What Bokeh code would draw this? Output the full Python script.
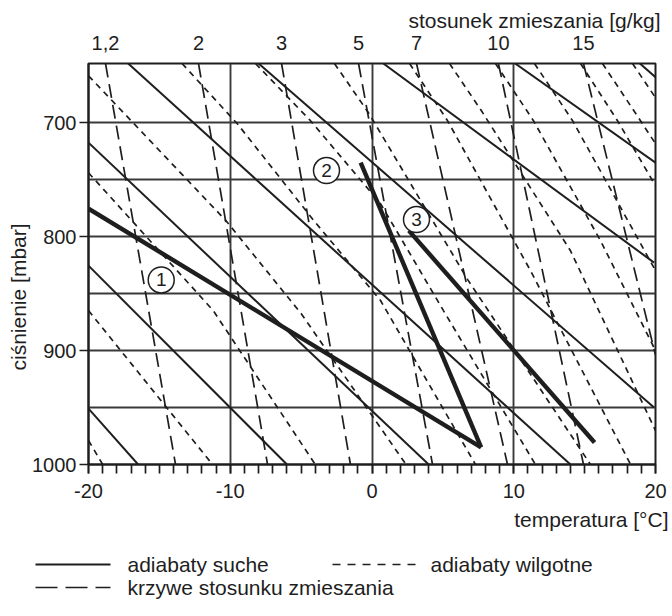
from bokeh.plotting import figure
from bokeh.layouts import column
from bokeh.models import Range1d, LinearAxis, FixedTicker, Title
from bokeh.core.properties import value
from bokeh.embed import file_html
from bokeh.resources import INLINE

FONT = "Liberation Sans"
INK = "#1e1e1e"
GRID = "#3a3a3a"

# ---------------- data ----------------
p_top, p_bot = 648, 1000
t_min, t_max = -20, 20
press_ticks = [700, 800, 900, 1000]
press_grid = [700, 750, 800, 850, 900, 950]
temp_ticks = [-20, -10, 0, 10, 20]
temp_tick_labels = ["-20", "-10", "0", "10", "20"]
temp_minor = list(range(-20, 21))
temp_grid = [-10, 0, 10]

# dry adiabats (solid) - endpoints (T, p)
dry_T = [[-20.0, -16.5], [-20.0, -6.0], [-20.0, 4.0], [-17.2, 14.0],
         [-8.0, 19.9], [0.8, 19.9], [10.1, 20.0], [18.9, 20.0]]
dry_p = [[950.9, 1000], [825.4, 1000], [717.5, 1000], [648, 1000],
         [648, 950], [648, 822.8], [648, 735], [648, 660]]

# moist adiabats (short dash)
moist_T = [[-20.0, -19.0],
           [-20.0, -11.25],
           [-20.0, -11.2, -4.0],
           [-20.0, -10.3, -5.0, 2.4],
           [-13.4, -9.5, -4.1, 0.6, 7.3],
           [-8.22, -4.34, 0.6, 5.04, 11.53],
           [-2.65, -0.25, 6.75, 15.41],
           [2.65, 5.33, 11.18, 18.24],
           [5.47, 7.72, 14.0, 20.0],
           [8.71, 11.39, 16.12, 20.0],
           [11.46, 14.15, 20.0],
           [14.71, 17.32, 20.0],
           [16.26, 18.94, 20.0],
           [18.38, 20.0]]
moist_p = [[978.9, 1000],
           [864.9, 1000],
           [743.9, 864.9, 1000],
           [658.8, 786, 867.5, 1000],
           [648, 700.9, 786, 856, 1000],
           [648, 698.2, 771.0, 864.9, 1000],
           [648, 691.2, 837.7, 1000],
           [648, 698.2, 829.8, 1000],
           [648, 689.5, 812.3, 970.2],
           [648, 698.2, 803.5, 900.0],
           [648, 698.2, 829.8],
           [648, 698.2, 755.3],
           [648, 698.2, 718.4],
           [648, 678]]

# mixing-ratio lines (long dash)
mr_labels = ["1,2", "2", "3", "5", "7", "10", "15"]
mr_T_top = [-18.8, -12.24, -6.38, -0.95, 3.14, 8.92, 14.92]
mr_T_bot = [-13.86, -7.37, -1.52, 4.27, 9.56, 14.92, 20.0]
mr_p_bot = [1000, 1000, 1000, 1000, 1000, 1000, 904]

# soundings (thick)
curve1_T = [-20.0, 7.7]
curve1_p = [775.4, 985]
curve2_T = [7.7, -0.8]
curve2_p = [985, 735]
curve3_T = [2.6, 15.7]
curve3_p = [794.7, 980.7]
mark_T = [-14.87, -3.21, 3.14]
mark_p = [838, 742, 785]
mark_txt = ["1", "2", "3"]

legend_labels = ["adiabaty suche", "adiabaty wilgotne", "krzywe stosunku zmieszania"]

# ---------------- main figure ----------------
p = figure(width=672, height=540, x_range=Range1d(t_min, t_max),
           y_range=Range1d(p_bot, p_top), output_backend="svg",
           toolbar_location=None, min_border_left=88, min_border_right=17,
           min_border_top=63, min_border_bottom=76)
p.background_fill_color = "white"
p.outline_line_color = INK
p.outline_line_width = 2

p.xgrid.ticker = FixedTicker(ticks=temp_grid)
p.ygrid.ticker = FixedTicker(ticks=press_grid)
for g in (p.xgrid[0], p.ygrid[0]):
    g.grid_line_color = GRID
    g.grid_line_width = 1.9

ax = p.below[0]
ax.ticker = FixedTicker(ticks=temp_ticks, minor_ticks=temp_minor)
ax.major_label_overrides = {t: s for t, s in zip(temp_ticks, temp_tick_labels)}
ax.axis_line_color = INK
ax.axis_line_width = 2
ax.major_tick_out = 9
ax.major_tick_in = 0
ax.minor_tick_out = 9
ax.minor_tick_in = 0
ax.major_tick_line_color = INK
ax.minor_tick_line_color = INK
ax.major_tick_line_width = 1.7
ax.minor_tick_line_width = 1.7
ax.major_label_standoff = 10
ax.major_label_text_font = FONT
ax.major_label_text_font_size = "20px"
ax.major_label_text_color = INK

ay = p.left[0]
ay.ticker = FixedTicker(ticks=press_ticks)
ay.axis_line_color = INK
ay.axis_line_width = 2
ay.major_tick_out = 9
ay.major_tick_in = 0
ay.minor_tick_line_color = None
ay.major_tick_line_color = INK
ay.major_tick_line_width = 1.7
ay.major_label_standoff = 3
ay.major_label_text_font = FONT
ay.major_label_text_font_size = "20px"
ay.major_label_text_color = INK

top = LinearAxis(ticker=FixedTicker(ticks=mr_T_top),
                 major_label_overrides={t: s for t, s in zip(mr_T_top, mr_labels)})
top.axis_line_color = None
top.major_tick_line_color = None
top.minor_tick_line_color = None
top.major_label_standoff = 8
top.major_label_text_font = FONT
top.major_label_text_font_size = "20px"
top.major_label_text_color = INK
p.add_layout(top, "above")

p.add_layout(Title(text="stosunek zmieszania [g/kg]", align="right", offset=-5, standoff=2,
                   text_font=FONT, text_font_size="21px", text_font_style="normal",
                   text_color=INK), "above")
p.add_layout(Title(text="temperatura [°C]", align="right", offset=-13, standoff=10,
                   text_font=FONT, text_font_size="21px", text_font_style="normal",
                   text_color=INK), "below")
p.add_layout(Title(text="ciśnienie [mbar]", align="left", offset=94, standoff=0,
                   text_font=FONT, text_font_size="21px", text_font_style="normal",
                   text_color=INK), "left")

# lines
p.multi_line(xs=[[a, b] for a, b in zip(mr_T_top, mr_T_bot)],
             ys=[[p_top, b] for b in mr_p_bot],
             line_color=INK, line_width=1.7, line_dash="14 7")
p.multi_line(xs=moist_T, ys=moist_p, line_color=INK, line_width=1.7, line_dash="6 5")
p.multi_line(xs=dry_T, ys=dry_p, line_color=INK, line_width=2.0)
for cx, cy in ((curve1_T, curve1_p), (curve2_T, curve2_p), (curve3_T, curve3_p)):
    p.line(cx, cy, line_color=INK, line_width=4.4, line_join="miter")

p.scatter(mark_T, mark_p, marker="circle", size=26, fill_color="white",
          line_color=INK, line_width=1.5)
p.text(mark_T, mark_p, text=mark_txt, text_align="center", text_baseline="middle",
       text_font=value(FONT), text_font_size="19px", text_color=INK)

# ---------------- legend strip (pixel coordinates) ----------------
LW, LH = 672, 76
lg = figure(width=LW, height=LH, x_range=Range1d(0, LW), y_range=Range1d(LH, 0),
            output_backend="svg", toolbar_location=None, min_border=0,
            x_axis_type=None, y_axis_type=None)
if "frame_align" in lg.properties():
    lg.frame_align = False
if "frame_align" in p.properties():
    p.frame_align = False
lg.grid.visible = False
lg.outline_line_color = None
row1, row2 = 24, 47
lg.line([35, 110], [row1, row1], line_color=INK, line_width=2.0)
lg.line([332, 417], [row1, row1], line_color=INK, line_width=1.7, line_dash="8 7")
lg.line([35, 110], [row2, row2], line_color=INK, line_width=1.7, line_dash="22 8")
lg.text([127, 430, 127], [row1, row1, row2], text=legend_labels,
        text_align="left", text_baseline="middle", text_font=value(FONT),
        text_font_size="21px", text_color=INK)

layout = column(p, lg, spacing=0)
open("out.html", "w").write(file_html(layout, INLINE))
